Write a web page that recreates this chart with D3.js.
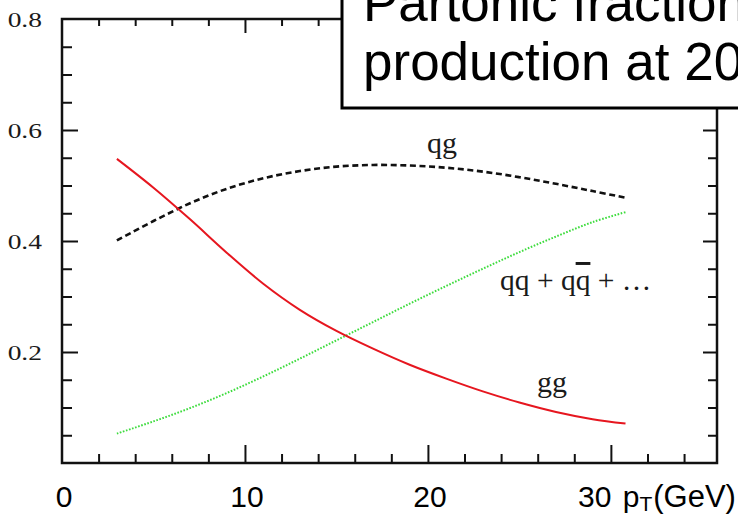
<!DOCTYPE html>
<html>
<head>
<meta charset="utf-8">
<script src="https://cdn.jsdelivr.net/npm/d3@7"></script>
<style>
  html, body { margin: 0; padding: 0; background: #fff; overflow: hidden; }
  svg { display: block; }
</style>
</head>
<body>
<svg id="chart" width="738" height="517"></svg>
<script>
// Partonic fractions vs photon transverse momentum
const pT     = [3, 5, 7, 9, 11, 13, 15, 17, 19, 21, 23, 25, 27, 29, 30.8];
const ggFrac = [0.548, 0.496, 0.439, 0.379, 0.323, 0.276, 0.238, 0.206, 0.177, 0.152, 0.129, 0.109, 0.092, 0.079, 0.071];
const qgFrac = [0.401, 0.436, 0.468, 0.494, 0.513, 0.526, 0.534, 0.537, 0.536, 0.532, 0.525, 0.515, 0.503, 0.490, 0.478];
const qqFrac = [0.053, 0.075, 0.099, 0.126, 0.156, 0.188, 0.221, 0.254, 0.287, 0.319, 0.350, 0.380, 0.408, 0.434, 0.452];

const yTickValues = [0.8, 0.6, 0.4, 0.2];
const yTickLabels = ["0.8", "0.6", "0.4", "0.2"];
const xTickValues = [0, 10, 20];
const xTickLabels = ["0", "10", "20"];
const titleLines  = ["Partonic fraction", "production at 20"];

const svg = d3.select("#chart");
const frame = { left: 62, right: 717, top: 19, bottom: 463 };

const x = d3.scaleLinear().domain([0, 35.8]).range([frame.left, frame.right]);
const y = d3.scaleLinear().domain([0, 0.8]).range([frame.bottom, frame.top]);

// tick helpers
function ticks(axisFn, values, size, tx, ty) {
  const g = svg.append("g")
    .attr("transform", `translate(${tx},${ty})`)
    .call(axisFn.tickValues(values).tickSize(size).tickSizeOuter(0).tickFormat(""));
  g.select(".domain").remove();
  g.selectAll(".tick line").attr("stroke", "#111").attr("stroke-width", 2);
  return g;
}
const xMinor = d3.range(0, 36, 2).filter(v => v % 10 !== 0);
const xMajor = [10, 20, 30];
const yMinor = d3.range(0, 0.801, 0.05).filter(v => Math.abs(v / 0.2 - Math.round(v / 0.2)) > 1e-6);
const yMajor = [0.2, 0.4, 0.6];

ticks(d3.axisTop(x), xMinor, 9, 0, frame.bottom);
ticks(d3.axisTop(x), xMajor, 18, 0, frame.bottom);
ticks(d3.axisBottom(x), xMinor, 7, 0, frame.top);
ticks(d3.axisBottom(x), xMajor, 14, 0, frame.top);
ticks(d3.axisRight(y), yMinor, 10, frame.left, 0);
ticks(d3.axisRight(y), yMajor, 16, frame.left, 0);
ticks(d3.axisLeft(y), yMinor, 9, frame.right, 0);
ticks(d3.axisLeft(y), yMajor, 14, frame.right, 0);

// frame
svg.append("rect")
  .attr("x", frame.left).attr("y", frame.top)
  .attr("width", frame.right - frame.left).attr("height", frame.bottom - frame.top)
  .attr("fill", "none").attr("stroke", "#111").attr("stroke-width", 2.5);

// curves
const line = d3.line().x((d, i) => x(pT[i])).y(d => y(d)).curve(d3.curveCatmullRom.alpha(0.5));

svg.append("path").datum(qqFrac).attr("d", line)
  .attr("fill", "none").attr("stroke", "#3ddc3d").attr("stroke-width", 2)
  .attr("stroke-dasharray", "1.6 1.6");
svg.append("path").datum(qgFrac).attr("d", line)
  .attr("fill", "none").attr("stroke", "#111").attr("stroke-width", 2.6)
  .attr("stroke-dasharray", "6 3.6");
svg.append("path").datum(ggFrac).attr("d", line)
  .attr("fill", "none").attr("stroke", "#e6161f").attr("stroke-width", 2);

// curve labels
const serif = "'Liberation Serif', 'Times New Roman', serif";
svg.append("text").attr("x", 427).attr("y", 153)
  .attr("font-family", serif).attr("font-size", 30).attr("fill", "#1a1a1a").text("qg");
svg.append("text").attr("x", 537).attr("y", 392)
  .attr("font-family", serif).attr("font-size", 30).attr("fill", "#1a1a1a").text("gg");
const qqLab = svg.append("text").attr("x", 500).attr("y", 290)
  .attr("font-family", serif).attr("font-size", 29.5).attr("fill", "#1a1a1a");
qqLab.append("tspan").text("qq + q");
qqLab.append("tspan").text("q").attr("text-decoration", "overline");
qqLab.append("tspan").text(" + \u2026");

// y tick labels (serif, widened)
yTickValues.forEach((v, i) => {
  svg.append("text")
    .attr("transform", `translate(42,${y(v)}) scale(1.25,1)`)
    .attr("text-anchor", "end").attr("dy", "0.35em")
    .attr("font-family", serif).attr("font-size", 22).attr("fill", "#1a1a1a")
    .text(yTickLabels[i]);
});
// partly hidden zero label
svg.append("clipPath").attr("id", "zclip")
  .append("rect").attr("x", 0).attr("y", 455).attr("width", 34).attr("height", 15);
svg.append("text")
  .attr("clip-path", "url(#zclip)")
  .attr("transform", `translate(26,${y(0) + 10}) scale(1.25,1)`)
  .attr("font-family", serif).attr("font-size", 22).attr("fill", "#888")
  .text("0");

// x tick labels (sans)
const sans = "'Liberation Sans', Arial, sans-serif";
xTickValues.forEach((v, i) => {
  svg.append("text").attr("x", x(v) + 2).attr("y", 507)
    .attr("text-anchor", "middle")
    .attr("font-family", sans).attr("font-size", 30).attr("fill", "#000")
    .text(xTickLabels[i]);
});
const xt = svg.append("text").attr("x", 578).attr("y", 507)
  .attr("font-family", sans).attr("font-size", 30).attr("fill", "#000");
xt.append("tspan").text("30 p").attr("word-spacing", 3);
xt.append("tspan").attr("font-size", 21).attr("dy", 4).text("T");
xt.append("tspan").attr("dy", -4).attr("dx", 1).attr("font-size", 31).text("(GeV)");

// title box overlapping the frame
svg.append("rect")
  .attr("x", 342).attr("y", -10).attr("width", 420).attr("height", 118)
  .attr("fill", "#fff").attr("stroke", "#000").attr("stroke-width", 3);
titleLines.forEach((t, i) => {
  svg.append("text").attr("x", 363).attr("y", 21 + i * 59)
    .attr("font-family", sans).attr("font-size", 53).attr("fill", "#000")
    .text(t);
});
</script>
</body>
</html>
